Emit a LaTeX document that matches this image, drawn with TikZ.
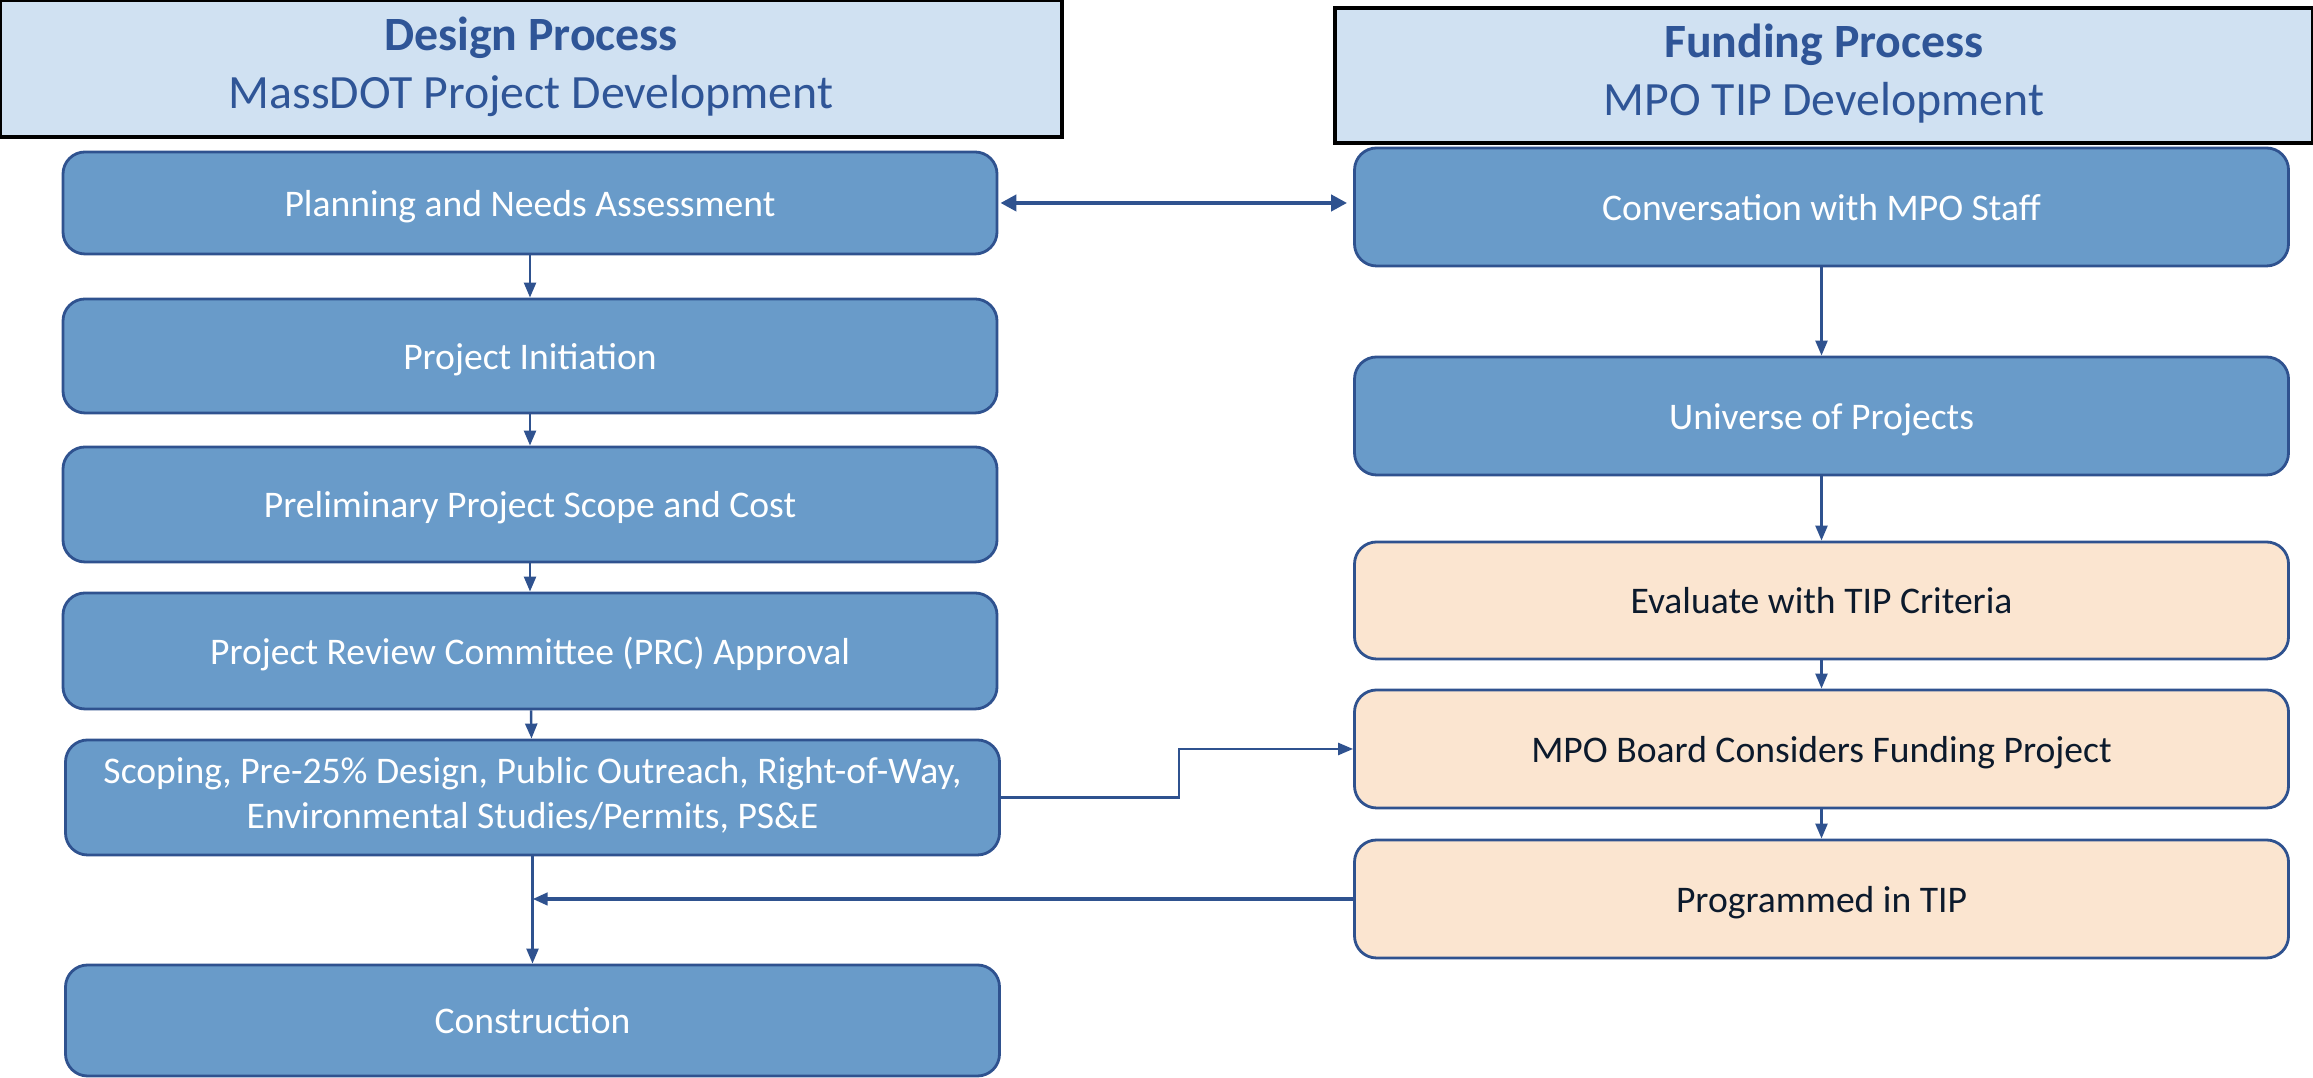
\documentclass[tikz,border=0pt]{standalone}
\usepackage{fontspec}
\setmainfont{Carlito}
\usepackage{tikz}
\usetikzlibrary{arrows.meta}

\definecolor{boxblue}{RGB}{105,155,201}
\definecolor{edgeblue}{RGB}{47,82,143}
\definecolor{headblue}{RGB}{208,225,242}
\definecolor{headtext}{RGB}{47,85,151}
\definecolor{peach}{RGB}{251,229,208}
\definecolor{darktext}{RGB}{12,26,44}

\begin{document}
\begin{tikzpicture}[
            header-box/.style={
                draw=black,
                line width=0.9pt,
                fill=headblue,
                text=headtext,
                align=center,
                inner sep=0pt,
                font=\fontsize{13.6}{16.4}\selectfont,
                execute at begin node={\rule{0pt}{12.4pt}},
                execute at end node={\rule[-3.4pt]{0pt}{0pt}}
            },
            step-box/.style={
                draw=edgeblue,
                line width=0.8pt,
                rounded corners=0.22cm,
                fill=boxblue,
                text=white,
                align=center,
                inner sep=0pt,
                minimum width=9.34cm,
                font=\fontsize{10.7}{12.8}\selectfont,
                execute at begin node={\rule{0pt}{0.95em}},
                execute at end node={\rule[-0.25em]{0pt}{0pt}}
            },
            tip-box/.style={
                step-box,
                fill=peach,
                text=darktext
            },
            flow/.style={
                draw=edgeblue,
                line width=0.7pt,
                -{Triangle[length=0.15cm,width=0.12cm]}
            }
        ]
        \useasboundingbox (0,0) rectangle (23.13,10.78);
        \node[header-box, minimum width=10.62cm, minimum height=1.37cm] (design) at (5.31,10.095)
            {\textbf{Design Process}\\MassDOT Project Development};
        \node[header-box, minimum width=9.78cm, minimum height=1.35cm] (funding) at (18.24,10.025)
            {\textbf{Funding Process}\\MPO TIP Development};

        \node[step-box, minimum height=1.02cm] (planning) at (5.30,8.75) {Planning and Needs Assessment};
        \node[step-box, minimum height=1.14cm] (initiation) at (5.30,7.22) {Project Initiation};
        \node[step-box, minimum height=1.15cm] (prelim) at (5.30,5.735) {Preliminary Project Scope and Cost};
        \node[step-box, minimum height=1.16cm] (prc) at (5.30,4.27) {Project Review Committee (PRC) Approval};
        \node[step-box, minimum height=1.15cm] (scoping) at (5.325,2.805)
            {Scoping, Pre-25\% Design, Public Outreach, Right-of-Way,\\Environmental Studies/Permits, PS\&E};
        \node[step-box, minimum height=1.11cm] (construction) at (5.325,0.575) {Construction};

        \node[step-box, minimum height=1.18cm] (conversation) at (18.215,8.71) {Conversation with MPO Staff};
        \node[step-box, minimum height=1.18cm] (universe) at (18.215,6.62) {Universe of Projects};
        \node[tip-box, minimum height=1.17cm] (evaluate) at (18.215,4.775) {Evaluate with TIP Criteria};
        \node[tip-box, minimum height=1.18cm] (board) at (18.215,3.29) {MPO Board Considers Funding Project};
        \node[tip-box, minimum height=1.18cm] (programmed) at (18.215,1.79) {Programmed in TIP};

        \foreach \from/\to in {planning/initiation, initiation/prelim, prelim/prc, prc/scoping,
                               scoping/construction, conversation/universe, universe/evaluate,
                               evaluate/board, board/programmed} {
            \draw[flow] (\from) -- (\to);
        }
        \draw[flow, line width=1.2pt, {Triangle[length=0.16cm,width=0.16cm]}-{Triangle[length=0.16cm,width=0.16cm]}]
            ([xshift=0.02cm]planning.east) -- ([xshift=-0.06cm]planning.east -| conversation.west);
        \draw[flow] (scoping.east) -- ++(1.78,0) |- (board.west);
        \coordinate (join) at (scoping.south |- programmed.west);
        \draw[flow, line width=1.2pt] (programmed.west) -- (join);
        \end{tikzpicture}
\end{document}
